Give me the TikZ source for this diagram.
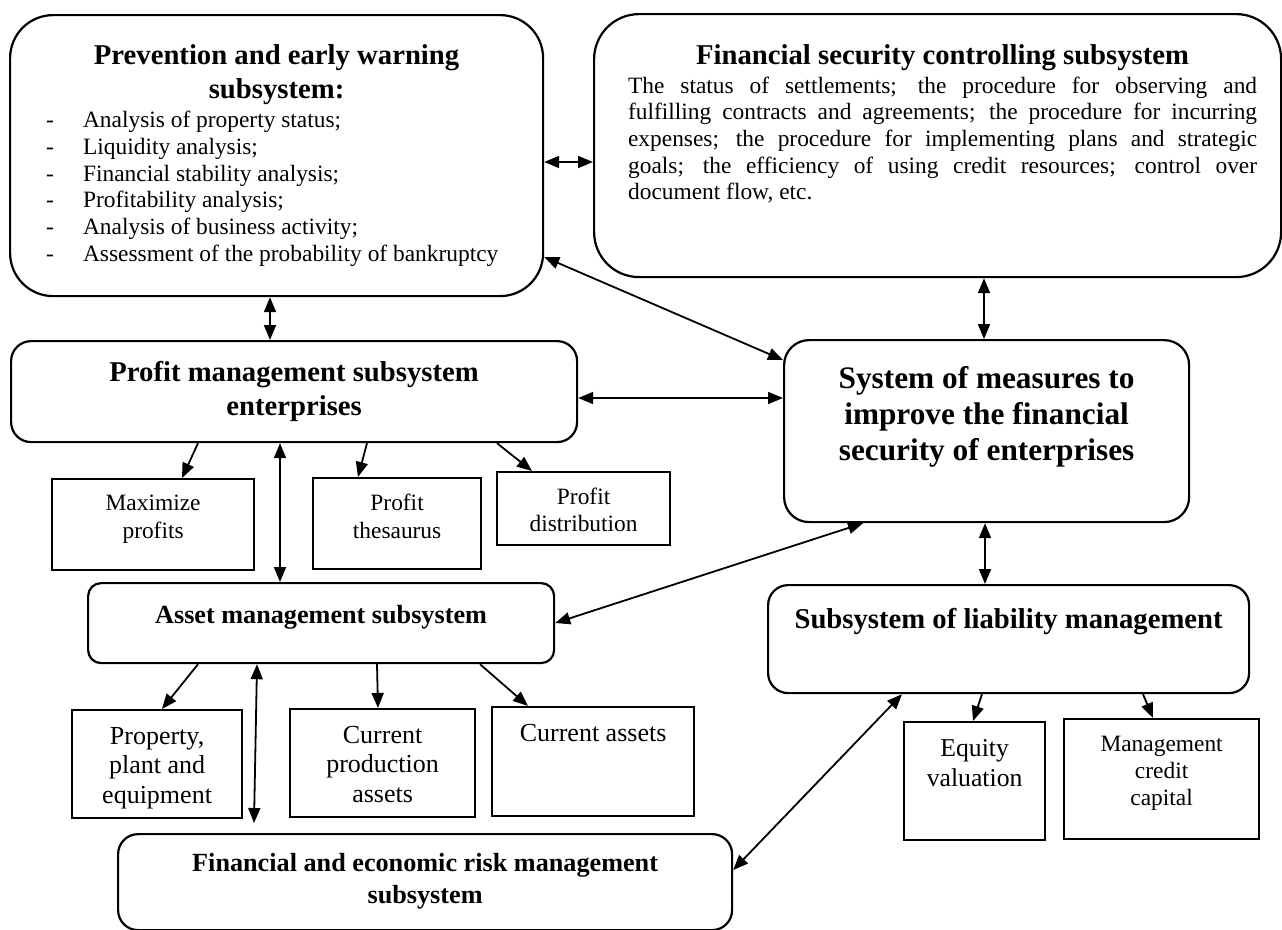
\documentclass[tikz,border=0pt]{standalone}
\usepackage{fontspec}
\setmainfont{Liberation Serif}
\usetikzlibrary{arrows.meta}

\newcommand{\headfont}{\fontsize{28.7pt}{34pt}\selectfont\bfseries}
\newcommand{\bigfont}{\fontsize{31.3pt}{36pt}\selectfont\bfseries}
\newcommand{\midfont}{\fontsize{26.2pt}{32pt}\selectfont\bfseries}
\newcommand{\listfont}{\fontsize{23.4pt}{26.7pt}\selectfont}
\newcommand{\cellfont}{\fontsize{26pt}{29.5pt}\selectfont}

\tikzset{
  roundbox/.style={draw, line width=2.2pt, inner sep=0pt, anchor=north west},
  sqbox/.style={draw, line width=2.2pt, inner sep=0pt, anchor=north west},
  link/.style={line width=1.8pt, {Triangle[length=15pt,width=12pt]}-{Triangle[length=15pt,width=12pt]}},
  feed/.style={line width=1.8pt, -{Triangle[length=15pt,width=12pt]}}
}

\begin{document}
\begin{tikzpicture}[x=1pt,y=-1pt]
\useasboundingbox (0,0) rectangle (1282,929);

\node[roundbox, rounded corners=43pt] (prev) at (9,14) {\parbox[c][281pt][t]{533pt}{%
  {\centering\headfont\rule{0pt}{49pt}Prevention and early warning\\ subsystem:\par}
  \vspace{3pt}
  {\listfont
  \hspace*{36pt}\makebox[37pt][l]{-}Analysis of property status;\\
  \hspace*{36pt}\makebox[37pt][l]{-}Liquidity analysis;\\
  \hspace*{36pt}\makebox[37pt][l]{-}Financial stability analysis;\\
  \hspace*{36pt}\makebox[37pt][l]{-}Profitability analysis;\\
  \hspace*{36pt}\makebox[37pt][l]{-}Analysis of business activity;\\
  \hspace*{36pt}\makebox[37pt][l]{-}Assessment of the probability of bankruptcy\par}}};

\node[roundbox, rounded corners=45pt] (ctrl) at (593,13) {\parbox[c][263pt][t]{687pt}{%
  \hspace*{34pt}\parbox[t]{629pt}{%
  {\centering\headfont\rule{0pt}{50pt}Financial security controlling subsystem\par}
  \vspace{2.3pt}
  {\listfont
  The status of settlements; the procedure for observing and\linebreak
  fulfilling contracts and agreements; the procedure for incurring\linebreak
  expenses; the procedure for implementing plans and strategic\linebreak
  goals; the efficiency of using credit resources; control over\linebreak
  document flow, etc.\par}}}};

\node[roundbox, rounded corners=25pt] (sys) at (783,339) {\parbox[c][182pt][t]{405pt}{%
  \centering\bigfont\rule{0pt}{48pt}System of measures to\\ improve the financial\\ security of enterprises}};

\node[roundbox, rounded corners=20pt] (profit) at (10,340) {\parbox[c][101pt][t]{566pt}{%
  \centering\headfont\rule{0pt}{40pt}Profit management subsystem\\ enterprises}};

\node[sqbox] (maxim) at (51,478) {\parbox[c][91pt][t]{202pt}{%
  \centering\fontsize{23.4pt}{28pt}\selectfont\rule{0pt}{31pt}Maximize\\ profits}};
\node[sqbox] (thes) at (312,477) {\parbox[c][91pt][t]{168pt}{%
  \centering\fontsize{23.4pt}{28pt}\selectfont\rule{0pt}{32pt}Profit\\ thesaurus}};
\node[sqbox] (distr) at (496,471) {\parbox[c][73pt][t]{173pt}{%
  \centering\fontsize{23.4pt}{27pt}\selectfont\rule{0pt}{32pt}Profit\\ distribution}};

\node[roundbox, rounded corners=13pt] (asset) at (87,582) {\parbox[c][80pt][t]{466pt}{%
  \centering\midfont\rule{0pt}{40pt}Asset management subsystem}};

\node[sqbox] (prop) at (71,709) {\parbox[c][108pt][t]{170pt}{%
  \centering\cellfont\rule{0pt}{34pt}Property,\\ plant and\\ equipment}};
\node[sqbox] (prod) at (289,708) {\parbox[c][108pt][t]{185pt}{%
  \centering\cellfont\rule{0pt}{34pt}Current\\ production\\ assets}};
\node[sqbox] (curr) at (491,706) {\parbox[c][109pt][t]{202pt}{%
  \centering\cellfont\rule{0pt}{34pt}Current assets}};

\node[roundbox, rounded corners=20pt] (risk) at (117,833) {\parbox[c][96pt][t]{614pt}{%
  \centering\midfont\rule{0pt}{37pt}Financial and economic risk management\\ subsystem}};

\node[roundbox, rounded corners=20pt] (liab) at (767,584) {\parbox[c][108pt][t]{481pt}{%
  \centering\headfont\rule{0pt}{43pt}Subsystem of liability management}};

\node[sqbox] (equity) at (903,721) {\parbox[c][118pt][t]{141pt}{%
  \centering\fontsize{25.7pt}{30pt}\selectfont\rule{0pt}{34pt}Equity\\ valuation}};
\node[sqbox] (mgmt) at (1063,718) {\parbox[c][120pt][t]{195pt}{%
  \centering\fontsize{23.4pt}{27pt}\selectfont\rule{0pt}{32pt}Management\\ credit\\ capital}};

\coordinate (riskin) at (254,823);

% connections of the subsystems
\draw[link] (prev.east |- 0,162) -- (ctrl.west |- 0,162);
\draw[link] (prev.east |- 0,257) -- (sys.west |- 0,360);
\draw[link] (ctrl.south -| 984,0) -- (sys.north -| 984,0);
\draw[link] (prev.south -| 270,0) -- (profit.north -| 270,0);
\draw[link] (profit.east |- 0,398) -- (sys.west |- 0,398);
\draw[link] (profit.south -| 280,0) -- (asset.north -| 280,0);
\draw[link] (sys.south -| 863,0) -- (asset.east |- 0,623);
\draw[link] (sys.south -| 985,0) -- (liab.north -| 985,0);
\draw[link] (asset.south -| 257,0) -- (riskin);
\draw[link] (risk.east |- 0,870) -- (liab.south -| 902,0);

% tasks
\draw[feed] (profit.south -| 198,0) -- (maxim.north -| 182,0);
\draw[feed] (profit.south -| 367,0) -- (thes.north -| 358,0);
\draw[feed] (profit.south -| 497,0) -- (distr.north -| 532,0);
\draw[feed] (asset.south -| 198,0) -- (prop.north -| 162,0);
\draw[feed] (asset.south -| 377,0) -- (prod.north -| 378,0);
\draw[feed] (asset.south -| 480,0) -- (curr.north -| 528,0);
\draw[feed] (liab.south -| 982,0) -- (equity.north -| 973,0);
\draw[feed] (liab.south -| 1143,0) -- (mgmt.north -| 1153,0);
\end{tikzpicture}
\end{document}
